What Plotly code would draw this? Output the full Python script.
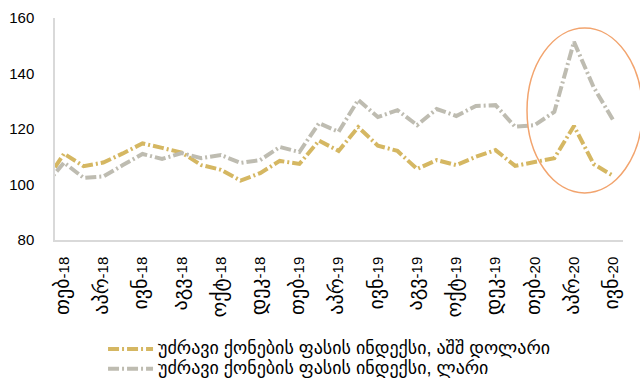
import plotly.graph_objects as go

# Monthly real estate price index, Jan 2018 - Jun 2020
months = [
    "იან-18", "თებ-18", "მარ-18", "აპრ-18", "მაი-18", "ივნ-18",
    "ივლ-18", "აგვ-18", "სექ-18", "ოქტ-18", "ნოე-18", "დეკ-18",
    "იან-19", "თებ-19", "მარ-19", "აპრ-19", "მაი-19", "ივნ-19",
    "ივლ-19", "აგვ-19", "სექ-19", "ოქტ-19", "ნოე-19", "დეკ-19",
    "იან-20", "თებ-20", "მარ-20", "აპრ-20", "მაი-20", "ივნ-20",
]

index_usd = [
    100.5, 111.1, 106.6, 107.9, 111.2, 114.8,
    113.2, 111.5, 107.0, 105.3, 101.4, 104.1,
    108.5, 107.4, 115.8, 112.1, 120.7, 114.0,
    112.1, 105.6, 108.8, 107.0, 110.0, 112.4,
    106.7, 108.2, 109.5, 121.1, 107.4, 103.1,
]

index_gel = [
    99.5, 107.9, 102.4, 102.9, 107.0, 111.0,
    109.2, 111.3, 109.5, 110.6, 107.8, 108.8,
    113.5, 111.7, 122.1, 119.0, 130.5, 124.3,
    126.8, 121.4, 127.2, 124.7, 128.3, 128.6,
    120.8, 121.4, 126.2, 151.4, 135.1, 123.2,
]

name_usd = "უძრავი ქონების ფასის ინდექსი, აშშ დოლარი"
name_gel = "უძრავი ქონების ფასის ინდექსი, ლარი"

tick_labels = months[1::2]


def tick_text(label):
    # Georgian month abbreviation set a bit larger than the year digits
    mon, yr = label.split("-")
    return f'<span style="font-size:20px">{mon}</span>-{yr}'


def legend_text(name):
    return f'<span style="font-size:18px">{name}</span>'


GOLD = "#D5B762"
GRAY = "#BEBCB1"
DASH = "11px,3px,2px,3px"

fig = go.Figure()
fig.add_trace(go.Scatter(
    x=months, y=index_usd, name=legend_text(name_usd), mode="lines",
    line=dict(color=GOLD, width=4, dash=DASH),
))
fig.add_trace(go.Scatter(
    x=months, y=index_gel, name=legend_text(name_gel), mode="lines",
    line=dict(color=GRAY, width=4, dash=DASH),
))

# highlight around the spring 2020 spike
fig.add_shape(
    type="circle", xref="paper", yref="paper",
    x0=0.831, x1=1.034, y0=0.212, y1=0.955,
    line=dict(color="#F2A46E", width=1.5),
    fillcolor="rgba(0,0,0,0)",
)

fig.update_layout(
    width=640, height=385,
    margin=dict(l=55, r=17, t=18, b=145, autoexpand=False),
    paper_bgcolor="white", plot_bgcolor="white",
    font=dict(family="Liberation Sans, Arial, DejaVu Sans", size=14, color="#000000"),
    showlegend=True,
    legend=dict(
        orientation="v", xref="container", yref="container",
        x=0.161, y=0.1325, xanchor="left", yanchor="top",
        font=dict(size=13), itemwidth=45, tracegroupgap=0,
        bgcolor="rgba(0,0,0,0)",
    ),
)

fig.update_xaxes(
    type="category", range=[0.54, 29.5],
    tickmode="array", tickvals=tick_labels,
    ticktext=[tick_text(t) for t in tick_labels],
    tickangle=-90, tickfont=dict(size=15), ticks="",
    ticklabelstandoff=9, automargin=False,
    showline=True, linecolor="#D9D9D9", linewidth=1.5,
    showgrid=False, zeroline=False,
)
fig.update_yaxes(
    range=[80, 160], tickvals=[80, 100, 120, 140, 160],
    tickfont=dict(size=15), ticks="", ticklabelstandoff=16, automargin=False,
    showline=True, linecolor="#D9D9D9", linewidth=1.5,
    showgrid=False, zeroline=False,
)

fig.write_html("out.html")
